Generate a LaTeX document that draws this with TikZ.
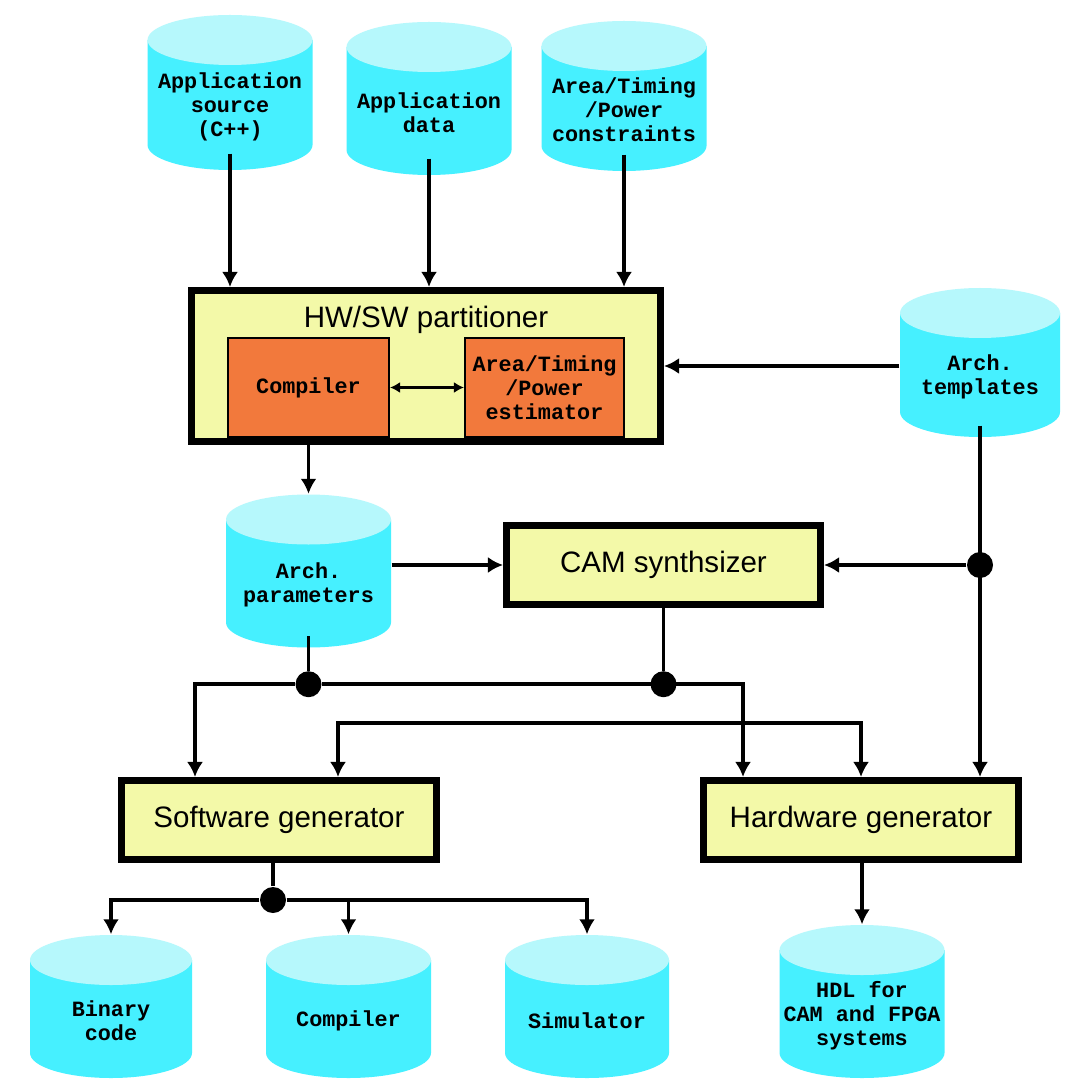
\documentclass[tikz,border=0pt]{standalone}
\usepackage{fontspec}
\setmainfont{Liberation Sans}
\newfontfamily\dbfont{Liberation Mono}
\usetikzlibrary{calc, arrows.meta}

\definecolor{dbbody}{RGB}{70,240,255}
\definecolor{dbtop}{RGB}{182,248,252}
\definecolor{boxfill}{RGB}{243,249,168}
\definecolor{unitfill}{RGB}{242,121,60}

\newcommand{\dbry}{0.25cm}

\tikzset{
    db/.style={minimum width=1.65cm, minimum height=1.53cm, inner sep=0pt,
        path picture={
            \fill[dbbody] let \p1=(path picture bounding box.north west),
                \p2=(path picture bounding box.south east), \n1={(\x2-\x1)/2} in
                (\x1,\y1-\dbry) -- (\x1,\y2+\dbry)
                arc[start angle=180, end angle=360, x radius=\n1, y radius=\dbry]
                -- (\x2,\y1-\dbry) -- cycle;
            \fill[dbtop] let \p1=(path picture bounding box.north west),
                \p2=(path picture bounding box.south east), \n1={(\x2-\x1)/2} in
                (\x1+\n1,\y1-\dbry) ellipse[x radius=\n1, y radius=\dbry];
        }},
    dbtext/.style={font=\dbfont\bfseries\fontsize{6.2}{6.8}\selectfont, align=center, yshift=-0.14cm},
    block/.style={draw, line width=2pt, fill=boxfill, inner sep=0pt, font=\fontsize{8.4}{10}\selectfont},
    unit/.style={draw, line width=0.6pt, fill=unitfill, inner sep=0pt, align=center,
        font=\dbfont\bfseries\fontsize{6.2}{6.8}\selectfont},
    flow/.style={line width=1.1pt, -{Latex[length=1.5mm, width=1.6mm]}},
    link/.style={line width=1.1pt},
    joint/.style={circle, fill, inner sep=0pt, minimum size=0.26cm},
}

\begin{document}
\begin{tikzpicture}
    \fill[white] (0,0) rectangle (10.65,-10.83);
    \useasboundingbox (0,0) rectangle (10.65,-10.83);

    % inputs
    \node[db, minimum height=1.55cm, label={[dbtext]center:{Application\\source\\(C++)}}] (src) at (2.30,-0.925) {};
    \node[db, label={[dbtext]center:{Application\\data}}] (data) at (4.29,-0.985) {};
    \node[db, minimum height=1.50cm, label={[dbtext]center:{Area/Timing\\/Power\\constraints}}] (cons) at (6.24,-0.96) {};
    \node[db, minimum width=1.60cm, minimum height=1.49cm, label={[dbtext]center:{Arch.\\templates}}] (tmpl) at (9.80,-3.625) {};

    % partitioner
    \node[block, minimum width=4.69cm, minimum height=1.51cm] (part) at (4.26,-3.66) {};
    \node[font=\fontsize{8.4}{10}\selectfont] (parttitle) at (4.26,-3.20) {HW/SW partitioner};
    \node[unit, minimum width=1.61cm, minimum height=0.99cm] (unitc) at (3.085,-3.875) {Compiler};
    \node[unit, minimum width=1.59cm, minimum height=0.99cm] (unite) at (5.445,-3.875) {Area/Timing\\/Power\\estimator};

    \node[db, label={[dbtext]center:{Arch.\\parameters}}] (par) at (3.085,-5.71) {};
    \node[block, minimum width=3.14cm, minimum height=0.79cm] (cam) at (6.635,-5.65) {CAM synthsizer};

    \node[block, minimum width=3.15cm, minimum height=0.79cm] (sw) at (2.79,-8.20) {Software generator};
    \node[block, minimum width=3.15cm, minimum height=0.79cm] (hw) at (8.61,-8.20) {Hardware generator};

    % outputs
    \node[db, minimum width=1.62cm, minimum height=1.43cm, label={[dbtext]center:{Binary\\code}}] (bin) at (1.11,-10.065) {};
    \node[db, minimum height=1.43cm, label={[dbtext]center:{Compiler}}] (comp) at (3.485,-10.065) {};
    \node[db, minimum width=1.64cm, minimum height=1.43cm, label={[dbtext]center:{Simulator}}] (sim) at (5.87,-10.065) {};
    \node[db, minimum height=1.53cm, label={[dbtext]center:{HDL for\\CAM and FPGA\\systems}}] (hdl) at (8.62,-10.015) {};

    % junctions
    \node[joint] (jt) at (tmpl.south |- cam.east) {};
    \node[joint] (jp) at ([yshift=-0.36cm]par.south) {};
    \node[joint] (jc) at (cam.south |- jp) {};
    \node[joint] (js) at (2.73,-9.00) {};

    \draw[flow] ([yshift=0.17cm]src.south) -- (src.south |- part.north);
    \draw[flow] ([yshift=0.17cm]data.south) -- (data.south |- part.north);
    \draw[flow] ([yshift=0.17cm]cons.south) -- (cons.south |- part.north);
    \draw[flow] (part.east -| tmpl.west) -- (part.east);
    \draw[line width=0.8pt, {Latex[length=1mm, width=1.1mm]}-{Latex[length=1mm, width=1.1mm]}] (unitc.east) -- (unite.west);

    \draw[flow] ([yshift=0.12cm]tmpl.south) -- (tmpl.south |- hw.north);
    \draw[flow] (jt) -- (cam.east);
    \draw[flow] (part.south -| par.north) -- (par.north);
    \draw[flow] (par.east |- cam.west) -- (cam.west);

    \draw[link] ([yshift=0.12cm]par.south) -- (jp);
    \draw[link] (cam.south) -- (jc);
    \draw[flow] (jp) -| ([xshift=-0.84cm]sw.north);
    \draw[flow] (jp) -| ([xshift=-1.18cm]hw.north);
    \draw[line width=1.1pt, {Latex[length=1.5mm, width=1.6mm]}-{Latex[length=1.5mm, width=1.6mm]}]
        ([xshift=0.59cm]sw.north) -- ++(0,0.54) -| (hw.north);

    \draw[link] (sw.south -| js) -- (js);
    \draw[flow] (js) -| (bin.north);
    \draw[flow] (js) -| (comp.north);
    \draw[flow] (js) -| (sim.north);
    \draw[flow] (hw.south -| hdl.north) -- (hdl.north);
\end{tikzpicture}
\end{document}
